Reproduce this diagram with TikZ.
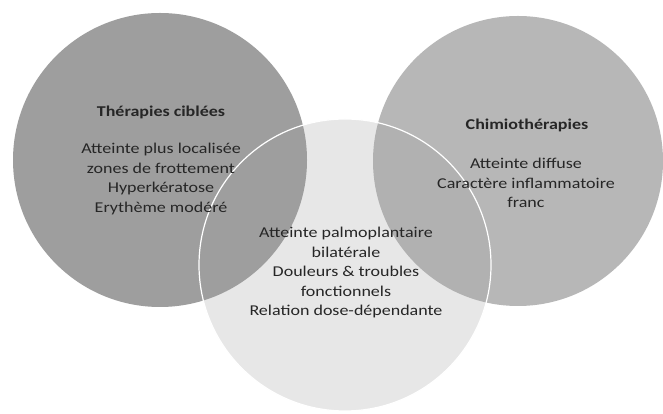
\documentclass[tikz,border=0pt]{standalone}
\usepackage{fontspec}
\setmainfont{Carlito}
\definecolor{setdark}{HTML}{9E9E9E}
\definecolor{setlight}{HTML}{B7B7B7}
\begin{document}
\begin{tikzpicture}[x=1pt, y=1pt,
  venn/.style={circle, inner sep=0pt},
  lbl/.style={align=center, text=black!85, xscale=1.2, font=\fontsize{15}{19.5}\selectfont}]
\useasboundingbox[fill=white] (0,0) rectangle (663,414);
\node[venn, minimum size=294, fill=setdark] (set0) at (160,254){};
\node[venn, minimum size=290, fill=setlight] (set1) at (518,253){};
\node[venn, minimum size=292, fill=setdark, fill opacity=0.24, draw=white, line width=1.2pt] (set2) at (345,149){};
\node[lbl, font=\fontsize{15}{19.5}\selectfont\bfseries] (lab0) at (161,302){Thérapies ciblées};
\node[lbl] (lab1) at (161,235){Atteinte plus localisée\\zones de frottement\\Hyperkératose\\Erythème modéré};
\node[lbl, font=\fontsize{15}{19.5}\selectfont\bfseries] (lab2) at (527,289){Chimiothérapies};
\node[lbl] (lab3) at (526,231){Atteinte diffuse\\Caractère inflammatoire\\franc};
\node[lbl] (lab4) at (346,141){Atteinte palmoplantaire\\bilatérale\\Douleurs \& troubles\\fonctionnels\\Relation dose-dépendante};
\end{tikzpicture}
\end{document}
